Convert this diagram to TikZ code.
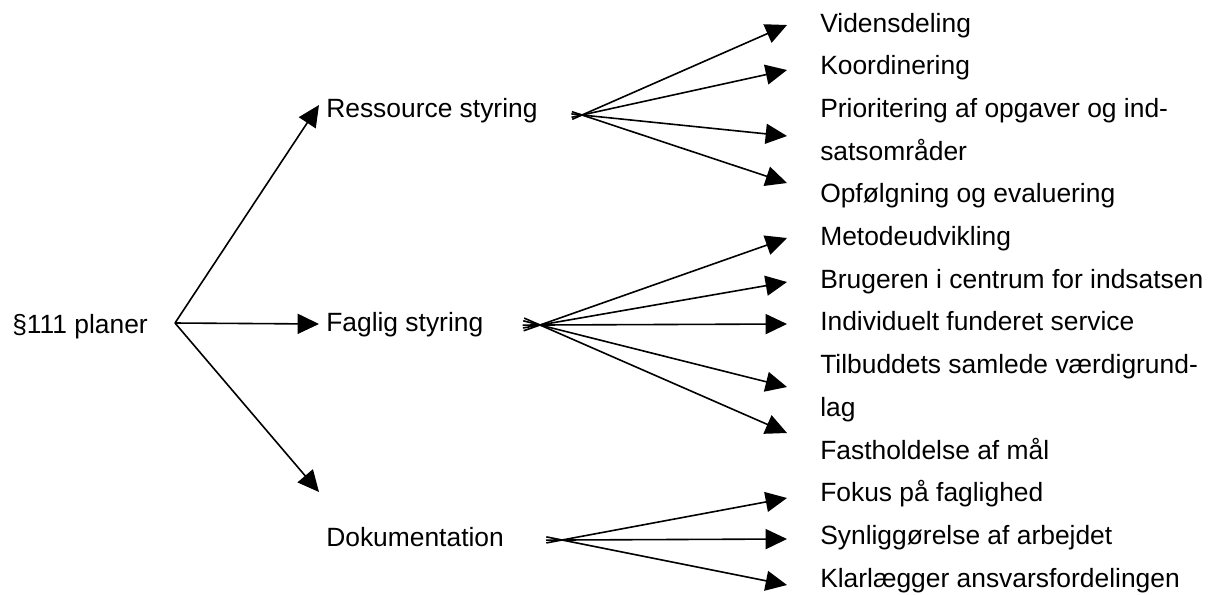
\documentclass[tikz,border=0pt]{standalone}
\usepackage{fontspec}
\setmainfont{Liberation Sans}
\usetikzlibrary{arrows.meta,calc}

\begin{document}
\begin{tikzpicture}[
  x=0.75pt, y=-0.75pt,
  lbl/.style={anchor=base west, inner sep=0pt, font=\fontsize{19.8}{23.8}\selectfont},
  arr/.style={-{Triangle[length=16pt,width=15pt]}, line width=1.2pt}
]
\useasboundingbox (0,0) rectangle (1220,594);

% first level
\node[lbl] (plan) at (12,333) {§111 planer};
\node[lbl] (ress) at (326,117) {Ressource styring};
\node[lbl] (fag) at (326,331) {Faglig styring};
\node[lbl] (dok) at (326,546) {Dokumentation};

% second level, one row every 42.7px
\foreach \n/\txt [count=\i from 0] in {
    vid/Vidensdeling, koo/Koordinering,
    pri/Prioritering af opgaver og ind-, pri2/satsområder,
    opf/Opfølgning og evaluering, met/Metodeudvikling,
    bru/Brugeren i centrum for indsatsen, ind/Individuelt funderet service,
    til/Tilbuddets samlede værdigrund-, til2/lag,
    fas/Fastholdelse af mål, fok/Fokus på faglighed,
    syn/Synliggørelse af arbejdet, kla/Klarlægger ansvarsfordelingen}
  \node[lbl] (\n) at (820,32+42.7*\i) {\txt};

% where the arrows meet and end
\coordinate (plan-out) at (175,323);
\coordinate (ress-tip) at (319,105);
\coordinate (fag-tip) at (319,324);
\coordinate (dok-tip) at (319,492);
\coordinate (ress-fan) at (582,115);
\coordinate (fag-fan) at (540,325);
\coordinate (dok-fan) at (562,540);
\foreach \n/\y in {vid/25, koo/70, pri/136, opf/183,
    met/238, bru/282, ind/324, til/387, fas/433,
    fok/498, syn/539, kla/585}
  \coordinate (\n-tip) at (787,\y);

\draw[arr] (plan-out) -- (ress-tip);
\draw[arr] (plan-out) -- (fag-tip);
\draw[arr] (plan-out) -- (dok-tip);

\foreach \n in {vid,koo,pri,opf}
  \draw[arr] ($(ress-fan)!-8pt!(\n-tip)$) -- (\n-tip);
\foreach \n in {met,bru,ind,til,fas}
  \draw[arr] ($(fag-fan)!-13pt!(\n-tip)$) -- (\n-tip);
\foreach \n in {fok,syn,kla}
  \draw[arr] ($(dok-fan)!-12pt!(\n-tip)$) -- (\n-tip);
\end{tikzpicture}
\end{document}
